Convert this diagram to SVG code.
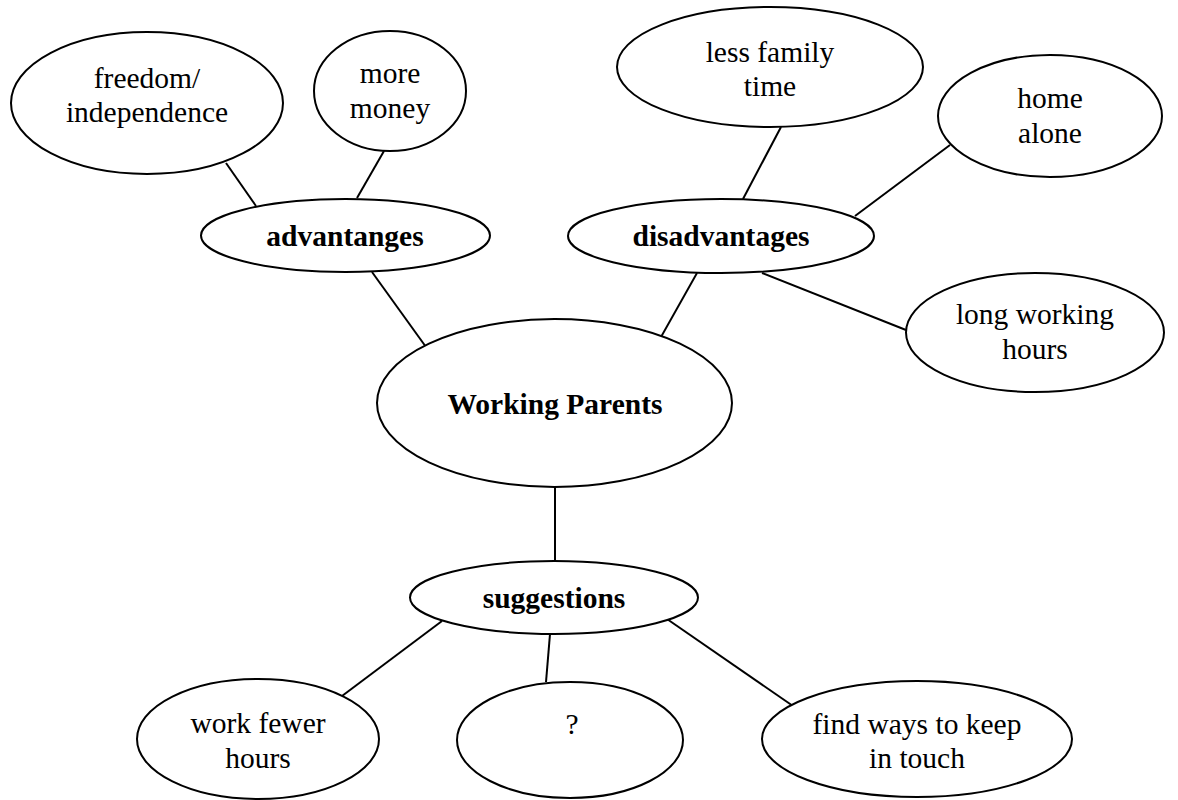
<svg xmlns="http://www.w3.org/2000/svg" width="1178" height="800" viewBox="0 0 1178 800">
<style>
.n{fill:#fff;stroke:#000;stroke-width:2}
.t{font-family:"Liberation Serif","Times New Roman",serif;font-size:29.5px;fill:#000;text-anchor:middle}
.b{font-weight:bold}
.c line{stroke:#000;stroke-width:2}
</style>
<rect width="1178" height="800" fill="#fff"/>
<g class="c" id="connectors">
<line x1="226" y1="163" x2="256" y2="206"/>
<line x1="384" y1="151" x2="357" y2="198"/>
<line x1="372" y1="272" x2="426" y2="347"/>
<line x1="781" y1="127" x2="743" y2="199"/>
<line x1="950" y1="145" x2="855" y2="216"/>
<line x1="762" y1="273" x2="906" y2="330"/>
<line x1="697" y1="273" x2="661" y2="337"/>
<line x1="555" y1="488" x2="555" y2="561"/>
<line x1="550" y1="634" x2="546" y2="682"/>
<line x1="442" y1="621" x2="342" y2="696"/>
<line x1="667" y1="619" x2="793" y2="706"/>
</g>
<g id="freedom"><ellipse class="n" cx="147" cy="103" rx="136" ry="71"/><text class="t" x="147" y="88">freedom/</text><text class="t" x="147" y="122">independence</text></g>
<g id="money"><ellipse class="n" cx="390" cy="91" rx="76" ry="60"/><text class="t" x="390" y="83">more</text><text class="t" x="390" y="118">money</text></g>
<g id="advantages"><ellipse class="n" cx="345.5" cy="235.5" rx="144.5" ry="36.5"/><text class="t b" x="345" y="246">advantanges</text></g>
<g id="lessfamily"><ellipse class="n" cx="770" cy="67" rx="153" ry="60"/><text class="t" x="770" y="62">less family</text><text class="t" x="770" y="96">time</text></g>
<g id="homealone"><ellipse class="n" cx="1050" cy="116" rx="112" ry="61"/><text class="t" x="1050" y="108">home</text><text class="t" x="1050" y="143">alone</text></g>
<g id="disadvantages"><ellipse class="n" cx="721" cy="236" rx="153" ry="37"/><text class="t b" x="721" y="246">disadvantages</text></g>
<g id="longhours"><ellipse class="n" cx="1035" cy="332.5" rx="129" ry="59.5"/><text class="t" x="1035" y="324">long working</text><text class="t" x="1035" y="359">hours</text></g>
<g id="working"><ellipse class="n" cx="554.5" cy="403" rx="177.5" ry="84"/><text class="t b" x="555" y="414">Working Parents</text></g>
<g id="suggestions"><ellipse class="n" cx="554" cy="597.5" rx="144" ry="36.5"/><text class="t b" x="554" y="608">suggestions</text></g>
<g id="fewer"><ellipse class="n" cx="258" cy="739" rx="121" ry="60"/><text class="t" x="258" y="733">work fewer</text><text class="t" x="258" y="768">hours</text></g>
<g id="question"><ellipse class="n" cx="570" cy="740" rx="113" ry="58"/><text class="t" x="572" y="734">?</text></g>
<g id="findways"><ellipse class="n" cx="917" cy="739" rx="155" ry="58"/><text class="t" x="917" y="734">find ways to keep</text><text class="t" x="917" y="768">in touch</text></g>
</svg>
